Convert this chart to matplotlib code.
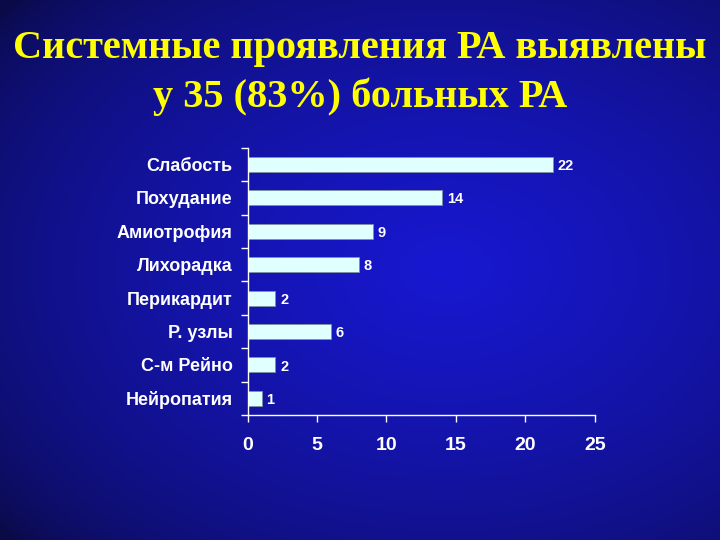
import numpy as np
import matplotlib.pyplot as plt

# данные
symptoms = ['Слабость', 'Похудание', 'Амиотрофия', 'Лихорадка',
            'Перикардит', 'Р. узлы', 'С-м Рейно', 'Нейропатия']
patients = [22, 14, 9, 8, 2, 6, 2, 1]
x_ticks = [0, 5, 10, 15, 20, 25]
title = 'Системные проявления РА выявлены\nу 35 (83%) больных РА'

fig = plt.figure(figsize=(7.2, 5.4), dpi=100)

# фон: градиент синего
bg = fig.add_axes([0, 0, 1, 1])
yy, xx = np.mgrid[0:1:270j, 0:1:360j]
r = np.sqrt(((xx - 0.62) / 0.8) ** 2 + ((yy - 0.5) / 0.75) ** 2)
t = np.clip(1 - r, 0, 1)
dark = np.array([10, 10, 70]) / 255
light = np.array([24, 24, 210]) / 255
img = dark + (light - dark) * t[..., None] ** 0.6
bg.imshow(img, extent=[0, 1, 0, 1], aspect='auto', origin='upper')
bg.axis('off')

fig.text(0.5, 0.945, title, ha='center', va='top', color='#FFFF00',
         family='Liberation Serif', fontweight='bold', fontsize=29,
         linespacing=1.35)

ax = fig.add_axes([0.344, 0.2315, 0.482, 0.495])
ax.set_facecolor('none')
y = np.arange(len(symptoms))
ax.barh(y, patients, height=0.45, color='#E0FFFF', edgecolor='#8090a0',
        linewidth=0.6)
for yi, v in zip(y, patients):
    ax.text(v + 0.35, yi + 0.05, str(v), va='center', ha='left',
            color='white', fontweight='bold', fontsize=10.5,
            family='Liberation Sans')

ax.set_ylim(len(symptoms) - 0.5, -0.5)
ax.set_xlim(0, 25)
ax.set_xticks(x_ticks)
ax.set_xticklabels([str(v) for v in x_ticks], color='white',
                   fontweight='bold', fontsize=14, family='Liberation Sans')
ax.set_yticks(y)
ax.set_yticklabels(symptoms, color='white', fontweight='bold', fontsize=13,
                   family='Liberation Sans')
ax.set_yticks(np.arange(-0.5, len(symptoms), 1), minor=True)
ax.tick_params(axis='y', which='major', length=0, pad=11)
ax.tick_params(axis='y', which='minor', length=5, color='white', width=1)
ax.tick_params(axis='x', length=5, color='white', width=1, pad=11)
for side in ['top', 'right']:
    ax.spines[side].set_visible(False)
for side in ['left', 'bottom']:
    ax.spines[side].set_color('white')
    ax.spines[side].set_linewidth(1)

fig.savefig('out.png', dpi=100)
